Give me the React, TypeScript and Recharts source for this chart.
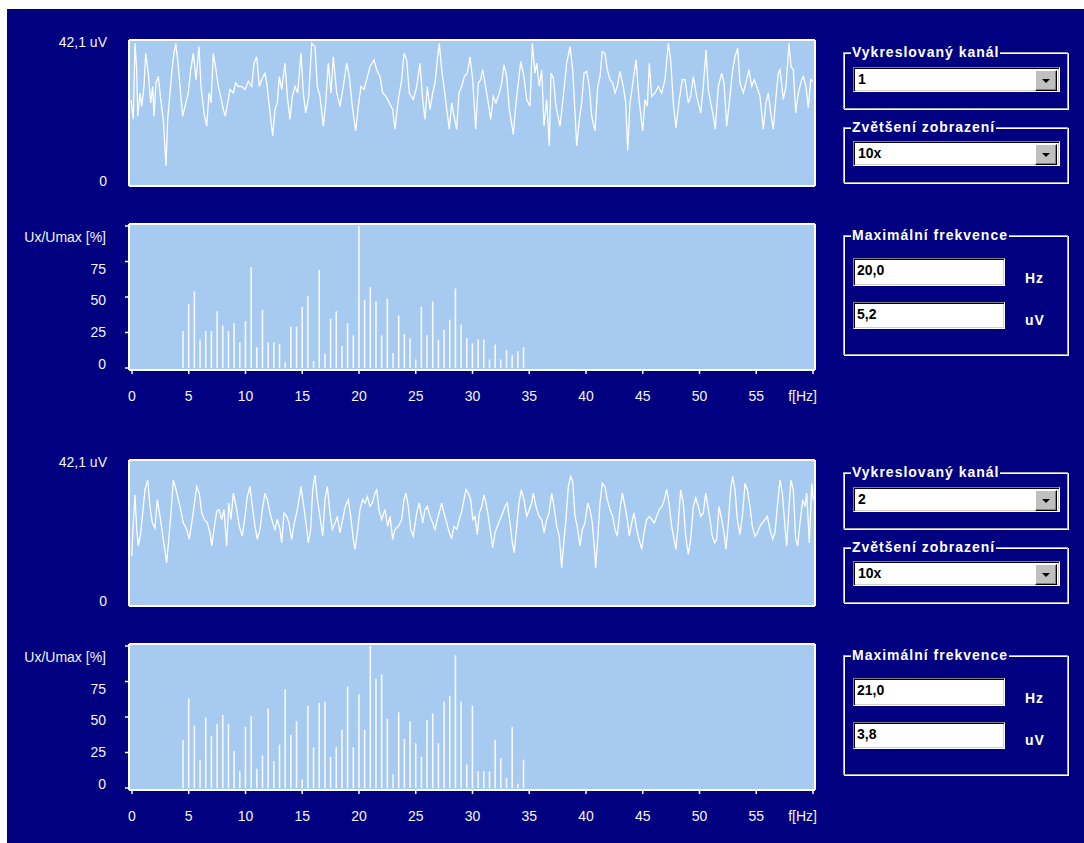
import React from "react";
import { Bar, BarChart, CartesianGrid, Line, LineChart, XAxis, YAxis } from "recharts";

const NAVY = "#000080";
const PANEL = "#A6CAF0";
const FONT = "'Liberation Sans', Arial, sans-serif";

// signal samples: [position along the trace, uV]
const ch1Signal: [number, number][] = [
  [1.0, 24.9], [3.3, 19.2], [5.0, 41.4], [6.7, 33.7], [7.7, 20.1], [10.0, 26.9], [11.7, 23.0], [14.0, 28.8], [15.7, 38.5], [18.3, 32.7],
  [20.7, 24.0], [22.7, 28.8], [24.0, 20.1], [26.0, 29.8], [28.3, 31.7], [30.7, 25.0], [33.3, 19.2], [36.0, 5.6], [37.7, 19.2], [40.0, 26.9],
  [42.3, 34.6], [44.0, 38.5], [45.7, 41.4], [47.7, 36.6], [50.0, 28.8], [52.7, 20.1], [55.0, 23.0], [58.3, 26.9], [60.7, 33.7], [63.3, 38.5],
  [66.0, 30.8], [69.0, 40.5], [71.0, 28.8], [74.0, 21.1], [76.7, 17.2], [79.0, 26.9], [81.0, 24.0], [83.3, 38.5], [86.0, 33.7], [88.3, 28.8],
  [90.7, 25.9], [93.3, 22.1], [95.3, 20.1], [97.7, 24.0], [100.0, 27.9], [103.3, 26.9], [105.7, 29.8], [108.3, 28.8], [111.7, 28.8], [115.0, 27.9],
  [118.3, 30.3], [121.7, 28.8], [124.0, 35.6], [126.7, 37.5], [129.3, 28.8], [132.3, 31.3], [135.0, 32.7], [136.7, 29.8], [139.3, 23.0], [142.7, 14.3],
  [145.0, 22.1], [147.3, 24.0], [149.3, 31.7], [151.7, 27.9], [155.0, 35.6], [157.3, 25.9], [160.0, 19.2], [162.3, 25.9], [165.0, 28.8], [167.7, 26.9],
  [171.0, 38.5], [173.3, 26.9], [175.7, 21.1], [178.7, 25.9], [181.7, 41.4], [185.0, 40.5], [187.3, 28.8], [190.0, 25.9], [193.3, 17.2], [195.7, 24.0],
  [198.3, 35.6], [201.0, 26.9], [203.3, 37.5], [206.7, 26.9], [210.0, 23.0], [213.3, 28.8], [216.7, 35.6], [219.3, 31.7], [222.3, 23.0], [225.7, 15.8],
  [228.3, 23.0], [231.0, 28.8], [234.0, 27.9], [236.7, 30.8], [240.0, 34.6], [244.0, 36.6], [246.7, 33.7], [250.0, 31.7], [252.7, 26.9], [256.0, 25.9],
  [259.3, 24.0], [262.7, 22.1], [265.0, 16.3], [268.3, 25.0], [271.7, 30.8], [274.0, 38.5], [276.7, 36.6], [279.3, 26.9], [283.3, 25.0], [286.7, 28.8],
  [290.0, 35.6], [292.7, 25.0], [295.0, 19.2], [297.3, 28.8], [300.0, 22.1], [302.7, 26.9], [305.0, 29.8], [307.3, 36.6], [309.3, 41.4], [311.7, 33.7],
  [314.0, 28.8], [316.7, 22.1], [319.3, 16.3], [321.7, 24.0], [324.0, 20.1], [326.7, 16.3], [329.0, 26.9], [331.7, 28.8], [334.3, 31.7], [337.3, 32.7],
  [340.0, 37.5], [342.7, 30.8], [345.7, 16.3], [348.3, 29.8], [350.7, 30.8], [352.7, 33.7], [355.0, 29.8], [358.3, 24.0], [360.7, 19.2], [363.3, 25.9],
  [366.0, 24.0], [369.3, 26.9], [371.7, 29.8], [374.0, 35.1], [376.7, 31.7], [379.3, 22.1], [383.3, 14.8], [386.0, 24.0], [388.3, 29.8], [390.7, 36.1],
  [394.0, 31.7], [396.7, 25.0], [400.0, 23.0], [402.3, 41.4], [405.0, 32.7], [406.7, 35.6], [409.3, 28.8], [411.7, 33.7], [414.0, 17.2], [416.7, 25.0],
  [419.3, 11.4], [421.0, 32.7], [423.3, 31.3], [426.0, 23.0], [430.0, 17.2], [433.3, 25.9], [436.7, 35.6], [440.0, 40.5], [442.7, 33.7], [445.0, 21.1],
  [446.7, 11.4], [449.3, 19.2], [451.7, 24.0], [454.0, 32.7], [456.7, 33.2], [459.3, 28.8], [461.7, 20.1], [465.0, 15.8], [467.7, 28.8], [470.0, 31.7],
  [472.3, 39.0], [475.0, 38.5], [477.3, 33.7], [480.0, 30.8], [482.7, 29.8], [485.0, 26.9], [487.3, 28.8], [490.0, 33.2], [493.3, 28.8], [495.7, 24.0],
  [497.7, 10.0], [500.0, 24.0], [503.3, 30.8], [506.0, 36.6], [509.0, 25.0], [512.7, 15.8], [515.0, 25.0], [517.3, 23.0], [519.3, 35.6], [521.7, 25.9],
  [525.0, 26.9], [528.3, 28.8], [531.7, 26.9], [535.0, 30.8], [538.3, 41.4], [540.7, 36.6], [543.3, 24.0], [546.0, 16.7], [549.3, 25.0], [552.3, 30.8],
  [555.0, 30.8], [558.3, 24.0], [560.7, 25.9], [563.3, 31.7], [566.7, 25.9], [570.7, 21.1], [573.3, 28.8], [576.0, 39.5], [578.3, 27.9], [580.7, 24.0],
  [583.3, 20.1], [585.3, 16.3], [588.3, 28.8], [591.7, 32.7], [594.0, 29.8], [596.7, 17.2], [599.3, 24.0], [602.7, 33.7], [605.0, 37.5], [607.7, 40.0],
  [610.0, 29.8], [613.3, 26.9], [616.7, 30.8], [619.0, 33.7], [621.7, 28.8], [624.3, 30.8], [626.7, 28.8], [630.0, 25.9], [633.3, 16.3], [636.0, 24.0],
  [638.3, 26.9], [640.7, 21.1], [643.3, 16.3], [646.0, 25.9], [648.3, 32.7], [650.0, 33.7], [653.3, 25.0], [656.0, 28.8], [659.0, 41.4], [661.0, 34.6],
  [663.3, 33.7], [665.7, 21.1], [668.3, 26.9], [671.7, 30.8], [673.3, 31.7], [676.0, 28.8], [678.3, 22.6], [680.7, 30.8], [682.7, 30.3],
];

const ch2Signal: [number, number][] = [
  [1.7, 14.3], [3.3, 24.0], [5.0, 32.2], [6.7, 22.1], [8.3, 17.2], [10.7, 21.1], [12.7, 26.9], [15.0, 33.7], [17.7, 36.6], [20.0, 28.8],
  [22.3, 24.0], [25.0, 22.5], [27.3, 30.8], [30.0, 25.9], [33.3, 19.2], [36.7, 12.4], [39.0, 20.1], [41.0, 26.9], [43.3, 36.6], [45.7, 34.2],
  [48.3, 30.8], [50.7, 27.9], [53.3, 24.0], [56.7, 22.1], [59.3, 19.2], [61.7, 24.0], [64.0, 28.8], [66.7, 34.6], [69.3, 32.7], [71.7, 26.9],
  [74.3, 25.0], [77.3, 24.0], [80.0, 21.1], [81.7, 17.2], [84.0, 22.1], [86.7, 27.4], [89.0, 27.9], [91.7, 25.0], [94.0, 27.9], [96.7, 17.2],
  [98.7, 29.8], [101.0, 25.0], [103.3, 32.7], [106.7, 27.9], [109.3, 23.0], [112.3, 20.1], [115.0, 25.9], [117.3, 31.7], [120.0, 34.6], [122.3, 28.8],
  [125.0, 23.0], [127.3, 19.2], [130.0, 22.1], [132.3, 27.9], [135.0, 32.7], [137.3, 30.8], [140.0, 26.9], [142.7, 24.0], [145.0, 22.1], [147.3, 25.0],
  [150.0, 22.1], [151.7, 18.2], [154.0, 26.9], [156.7, 25.9], [159.0, 24.0], [161.7, 19.2], [164.3, 24.0], [166.7, 26.9], [169.0, 30.8], [171.0, 34.6],
  [173.3, 29.8], [176.0, 24.0], [178.3, 18.2], [180.7, 22.1], [182.7, 33.7], [185.0, 38.0], [187.3, 30.8], [190.0, 25.9], [192.7, 20.1], [195.0, 30.8],
  [197.3, 34.6], [200.0, 26.9], [202.3, 22.1], [205.0, 24.0], [207.3, 25.9], [210.0, 21.1], [212.7, 25.0], [215.3, 28.8], [218.3, 30.8], [220.7, 25.9],
  [223.3, 19.2], [225.0, 16.3], [227.3, 21.1], [230.0, 27.9], [232.7, 30.8], [235.0, 29.8], [237.3, 31.7], [240.0, 28.8], [242.3, 29.8], [245.0, 32.7],
  [246.7, 33.7], [249.0, 27.9], [251.7, 25.0], [255.0, 27.9], [257.7, 23.0], [260.0, 25.9], [262.7, 19.2], [265.0, 22.1], [268.3, 23.0], [271.7, 25.0],
  [274.0, 30.8], [276.0, 32.7], [278.3, 28.8], [280.7, 22.1], [283.3, 20.1], [286.7, 26.9], [289.3, 29.8], [292.7, 24.0], [295.0, 27.9], [297.3, 28.8],
  [300.0, 25.9], [302.7, 24.0], [305.0, 22.1], [307.3, 25.0], [310.0, 27.9], [311.7, 29.8], [314.0, 26.9], [316.7, 24.0], [319.3, 21.1], [321.7, 19.6],
  [324.0, 23.0], [326.7, 22.1], [329.3, 25.0], [331.7, 27.4], [334.0, 30.8], [336.0, 33.7], [338.3, 32.7], [340.7, 30.8], [342.7, 25.0], [345.0, 25.9],
  [347.3, 20.6], [349.3, 26.9], [351.7, 28.8], [354.0, 32.2], [356.0, 29.8], [358.3, 25.9], [360.7, 21.1], [362.7, 16.7], [365.0, 21.1], [367.3, 23.0],
  [370.0, 25.0], [372.7, 26.9], [375.0, 28.8], [377.3, 29.8], [380.0, 24.0], [382.3, 18.2], [384.3, 15.3], [386.7, 23.0], [389.0, 29.8], [391.3, 33.7],
  [394.0, 30.8], [396.7, 25.9], [399.3, 27.9], [401.7, 29.8], [403.3, 32.7], [406.0, 28.8], [409.0, 25.9], [411.7, 25.0], [414.0, 21.1], [416.7, 25.0],
  [419.0, 26.9], [421.7, 32.7], [424.0, 28.8], [426.7, 23.0], [429.3, 20.1], [431.7, 10.9], [434.0, 19.2], [436.0, 25.0], [438.3, 34.6], [440.7, 37.6],
  [442.7, 36.1], [445.0, 25.9], [447.3, 23.0], [450.0, 17.2], [452.3, 22.1], [455.0, 24.0], [457.7, 29.8], [460.0, 27.9], [462.3, 24.0], [464.3, 17.2],
  [465.7, 10.9], [467.7, 19.2], [470.0, 29.8], [472.3, 35.6], [475.0, 34.6], [477.3, 30.8], [480.0, 27.9], [482.7, 25.9], [485.0, 22.1], [487.3, 20.1],
  [490.0, 27.9], [492.3, 32.7], [495.0, 28.8], [497.3, 25.0], [499.3, 20.1], [501.7, 24.0], [504.0, 26.9], [506.7, 22.1], [509.0, 19.2], [511.7, 16.3],
  [514.0, 21.1], [516.7, 25.0], [519.3, 25.9], [521.7, 25.0], [524.3, 24.0], [526.7, 25.9], [529.3, 27.9], [532.0, 28.8], [534.3, 30.8], [536.7, 33.7],
  [539.0, 29.8], [541.7, 23.0], [544.0, 19.2], [546.0, 16.3], [548.3, 24.0], [550.7, 33.7], [553.3, 29.8], [555.7, 20.1], [558.3, 14.8], [560.7, 19.2],
  [563.3, 28.8], [565.7, 31.3], [568.3, 28.8], [570.7, 25.9], [573.3, 26.9], [575.7, 32.7], [577.3, 29.8], [580.0, 25.0], [582.3, 20.1], [584.7, 18.2],
  [586.7, 19.2], [589.0, 28.8], [591.7, 25.0], [594.0, 21.1], [596.0, 16.3], [598.3, 24.0], [600.7, 33.7], [602.7, 37.6], [605.0, 33.7], [607.3, 25.0],
  [610.0, 20.6], [612.7, 26.9], [615.0, 35.6], [617.3, 33.7], [620.0, 28.8], [622.3, 23.0], [625.0, 20.1], [627.3, 21.1], [630.0, 23.0], [632.3, 24.0],
  [635.0, 25.0], [637.3, 25.9], [640.0, 22.1], [642.7, 19.2], [645.0, 21.1], [647.3, 28.8], [650.0, 36.6], [652.3, 32.7], [655.0, 23.0], [656.7, 17.2],
  [659.0, 28.8], [661.0, 36.6], [663.3, 33.7], [665.7, 19.2], [667.7, 17.2], [670.0, 24.0], [672.7, 30.8], [675.0, 28.8], [676.7, 32.7], [679.3, 18.2],
  [681.7, 35.6], [683.3, 30.8],
];

// spectrum lines, Hz
const specFreq = [
  4.5, 5, 5.5, 6, 6.5, 7, 7.5, 8, 8.5, 9, 9.5, 10, 10.5, 11, 11.5, 12, 12.5, 13, 13.5, 14,
  14.5, 15, 15.5, 16, 16.5, 17, 17.5, 18, 18.5, 19, 19.5, 20, 20.5, 21, 21.5, 22, 22.5, 23, 23.5, 24,
  24.5, 25, 25.5, 26, 26.5, 27, 27.5, 28, 28.5, 29, 29.5, 30, 30.5, 31, 31.5, 32, 32.5, 33, 33.5, 34, 34.5,
];
// Ux/Umax [%]
const ch1Spec = [
  26, 45, 54, 20, 26, 26, 40, 30, 26, 31.5, 18, 33, 71, 14.6, 41, 18, 18, 17, 4, 29,
  29, 43, 50.6, 5, 69, 10, 34.6, 40, 15.5, 31.5, 23, 100, 47.8, 57, 47, 23, 48.7, 10.6, 37, 24,
  21, 6, 43, 23, 47, 20, 27, 34, 56, 30.6, 21, 17.4, 20, 20, 6, 16.5, 6, 12.5, 9, 11.8, 14.6,
];
const ch2Spec = [
  33.6, 63, 44, 20, 49.6, 36.5, 45, 51.5, 45, 26, 11.8, 43, 50.6, 13.6, 23, 56, 19, 30.6, 69.6, 37.4,
  47, 6, 58, 28.7, 60, 61, 22, 28.7, 41, 71.5, 28.7, 66, 41, 100, 77, 80, 48.7, 9.6, 53.4, 34.6,
  47, 31.5, 22, 47.8, 52.5, 31.5, 61, 65, 93.4, 61, 16.5, 58, 11.8, 11.8, 11.8, 34, 21, 7, 43, 3, 20,
];

const freqTicks = [0, 5, 10, 15, 20, 25, 30, 35, 40, 45, 50, 55, 60];
const pctTicks = [0, 25, 50, 75, 100];
const uvTicks = [0, 42.1];

const channels = [
  { signal: ch1Signal, spec: ch1Spec, kanal: "1", zoom: "10x", fmax: "20,0", umax: "5,2" },
  { signal: ch2Signal, spec: ch2Spec, kanal: "2", zoom: "10x", fmax: "21,0", umax: "3,8" },
];

const border = { stroke: "#ffffff", strokeWidth: 2 };

function UvTick({ x, y, payload }: any) {
  const top = payload.value > 0;
  return (
    <text x={x} y={y + (top ? 1 : -4)} dy="0.355em" textAnchor="end" fill="#f4f4f4" fontSize={14} fontFamily={FONT}>
      {top ? "42,1 uV" : "0"}
    </text>
  );
}

function PctTick({ x, y, payload }: any) {
  const v = payload.value;
  return (
    <text x={x} y={y - 4 + v * 0.15} dy="0.355em" textAnchor="end" fill="#f4f4f4" fontSize={14} fontFamily={FONT}>
      {v === 100 ? "Ux/Umax [%]" : String(v)}
    </text>
  );
}

function FreqTick({ x, y, payload }: any) {
  const last = payload.value === 60;
  return (
    <text x={last ? x + 4 : x} y={y} dy="0.71em" textAnchor={last ? "end" : "middle"} fill="#f4f4f4" fontSize={14} fontFamily={FONT}>
      {last ? "f[Hz]" : String(payload.value)}
    </text>
  );
}

function SignalChart({ signal }: { signal: [number, number][] }) {
  const rows = signal.map(([t, u]) => ({ t, u }));
  return (
    <LineChart width={830} height={200} data={rows} margin={{ top: 38, right: 13, bottom: 13, left: 0 }}>
      <CartesianGrid fill={PANEL} horizontal={false} vertical={false} />
      <XAxis dataKey="t" type="number" domain={[0, 685]} padding={{ left: 1, right: 0 }} height={1} tick={false} tickLine={false} axisLine={border} />
      <XAxis xAxisId="top" orientation="top" type="number" domain={[0, 685]} height={2} tick={false} tickLine={false} axisLine={border} />
      <YAxis type="number" domain={[0, 42.1]} ticks={uvTicks} padding={{ top: 1, bottom: 1 }} width={129} tickSize={0} tickMargin={22} tickLine={false} axisLine={border} tick={<UvTick />} />
      <YAxis yAxisId="right" orientation="right" type="number" domain={[0, 42.1]} width={2} tick={false} tickLine={false} axisLine={border} />
      <Line dataKey="u" type="linear" stroke="#ffffff" strokeWidth={1.3} dot={false} isAnimationActive={false} />
    </LineChart>
  );
}

function SpectrumChart({ spec }: { spec: number[] }) {
  const rows = specFreq.map((f, i) => ({ f, p: spec[i] }));
  return (
    <BarChart width={830} height={220} data={rows} margin={{ top: 22, right: 13, bottom: 10, left: 0 }}>
      <CartesianGrid fill={PANEL} horizontal={false} vertical={false} />
      <XAxis dataKey="f" type="number" domain={[0, 60]} ticks={freqTicks} interval={0} padding={{ left: 3, right: 2 }} height={40}
        tickSize={4} tickMargin={17} tickLine={{ stroke: "#ffffff", strokeWidth: 1.5 }} axisLine={border} tick={<FreqTick />} />
      <XAxis xAxisId="top" orientation="top" type="number" domain={[0, 60]} height={2} tick={false} tickLine={false} axisLine={border} />
      <YAxis type="number" domain={[0, 100]} ticks={pctTicks} interval={0} padding={{ top: 2, bottom: 2 }} width={129}
        tickSize={4} tickMargin={19} tickLine={{ stroke: "#ffffff", strokeWidth: 1.5 }} axisLine={border} tick={<PctTick />} />
      <YAxis yAxisId="right" orientation="right" type="number" domain={[0, 100]} width={2} tick={false} tickLine={false} axisLine={border} />
      <Bar dataKey="p" fill="#f8f8ff" barSize={1.6} isAnimationActive={false} />
    </BarChart>
  );
}

const uiFont: React.CSSProperties = { fontFamily: FONT, fontWeight: "bold", fontSize: 14 };

function GroupBox({ top, height, title }: { top: number; height: number; title: string }) {
  return (
    <div style={{ position: "absolute", left: 843, top, width: 225, height, border: "1px solid #a8a8a8",
      boxShadow: "inset 1px 1px 0 #ffffff, 1px 1px 0 #ffffff", boxSizing: "border-box" }}>
      <span style={{ ...uiFont, position: "absolute", left: 7, top: -9, lineHeight: "16px", background: NAVY, color: "#ffffff",
        letterSpacing: 1, padding: "0 1px", whiteSpace: "nowrap" }}>{title}</span>
    </div>
  );
}

function Sunken({ left, top, width, height, children }: any) {
  return (
    <div style={{ position: "absolute", left, top, width, height, background: "#ffffff", boxSizing: "border-box",
      borderTop: "1px solid #808080", borderLeft: "1px solid #808080", borderRight: "1px solid #ffffff", borderBottom: "1px solid #ffffff",
      boxShadow: "inset 1px 1px 0 #000000, inset -1px -1px 0 #d4d0c8" }}>
      {children}
    </div>
  );
}

function Combo({ top, text }: { top: number; text: string }) {
  return (
    <Sunken left={853} top={top} width={207} height={25}>
      <span style={{ ...uiFont, position: "absolute", left: 4, top: 3, color: "#000000" }}>{text}</span>
      <div style={{ position: "absolute", right: 2, top: 2, width: 22, height: 21, background: "#c0c0c0", boxSizing: "border-box",
        borderTop: "1px solid #ffffff", borderLeft: "1px solid #ffffff", borderRight: "1px solid #000000", borderBottom: "1px solid #000000",
        boxShadow: "inset -1px -1px 0 #808080" }}>
        <div style={{ position: "absolute", left: 6, top: 8, width: 0, height: 0, borderLeft: "4px solid transparent",
          borderRight: "4px solid transparent", borderTop: "4px solid #000000" }} />
      </div>
    </Sunken>
  );
}

function Controls({ dy, ch }: { dy: number; ch: (typeof channels)[number] }) {
  return (
    <>
      <GroupBox top={52 + dy} height={57} title="Vykreslovaný kanál" />
      <Combo top={67 + dy} text={ch.kanal} />
      <GroupBox top={127 + dy} height={56} title="Zvětšení zobrazení" />
      <Combo top={141 + dy} text={ch.zoom} />
      <GroupBox top={235 + dy} height={120} title="Maximální frekvence" />
      <Sunken left={853} top={258 + dy} width={152} height={28}>
        <span style={{ ...uiFont, position: "absolute", left: 3, top: 3, color: "#000000" }}>{ch.fmax}</span>
      </Sunken>
      <span style={{ ...uiFont, position: "absolute", left: 1025, top: 270 + dy, color: "#ffffff", letterSpacing: 1 }}>Hz</span>
      <Sunken left={853} top={302 + dy} width={152} height={27}>
        <span style={{ ...uiFont, position: "absolute", left: 3, top: 3, color: "#000000" }}>{ch.umax}</span>
      </Sunken>
      <span style={{ ...uiFont, position: "absolute", left: 1025, top: 312 + dy, color: "#ffffff", letterSpacing: 1 }}>uV</span>
    </>
  );
}

export default function App() {
  return (
    <div style={{ position: "absolute", left: 0, top: 0, width: 1084, height: 843, background: "#ffffff", overflow: "hidden" }}>
      <div style={{ position: "absolute", left: 7, top: 9, width: 1077, height: 834, background: NAVY }} />
      {channels.map((ch, i) => (
        <React.Fragment key={i}>
          <div style={{ position: "absolute", left: 0, top: i * 420 }}>
            <SignalChart signal={ch.signal} />
          </div>
          <div style={{ position: "absolute", left: 0, top: 200 + i * 420 }}>
            <SpectrumChart spec={ch.spec} />
          </div>
          <Controls dy={i * 420} ch={ch} />
        </React.Fragment>
      ))}
    </div>
  );
}
